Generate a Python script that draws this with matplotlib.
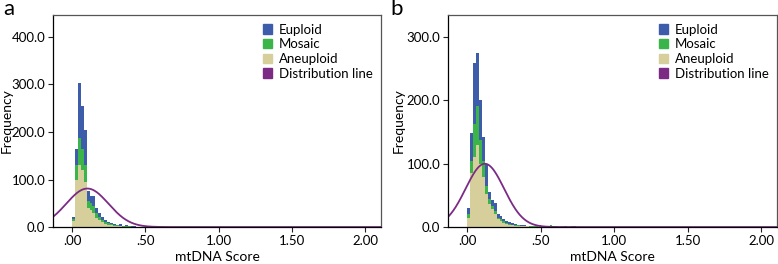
import numpy as np
import matplotlib
matplotlib.use('Agg')
import matplotlib.pyplot as plt
from matplotlib.patches import Patch

plt.rcParams['font.family'] = ['Lato', 'DejaVu Sans']

bin_width = 0.02

# panel a, counts per 0.02 bin starting at 0.00
a_aneuploid = [12, 100, 130, 120, 95, 40, 35, 30, 20, 15, 10, 7, 5, 4, 3, 2, 2, 1, 1, 1,
               0, 1, 0, 0, 1, 0, 0, 0, 1, 0, 0, 0, 0]
a_mosaic = [5, 30, 57, 45, 35, 15, 15, 15, 10, 7, 5, 3, 3, 2, 2, 2, 1, 1, 2, 1,
            1, 0, 1, 0, 0, 1, 0, 0, 2, 0, 0, 0, 0]
a_euploid = [5, 35, 116, 90, 75, 20, 15, 20, 10, 8, 7, 4, 3, 3, 2, 1, 3, 1, 1, 1,
             1, 1, 0, 1, 0, 0, 1, 0, 0, 0, 1, 0, 1]

# panel b
b_aneuploid = [15, 85, 110, 130, 100, 79, 53, 37, 28, 20, 12, 9, 7, 5, 4, 3, 2, 2, 1, 1,
               1, 0, 0, 0, 1, 0, 0, 1, 1, 0, 0, 0, 1, 0, 0, 0, 0]
b_mosaic = [5, 20, 53, 62, 37, 26, 12, 8, 5, 5, 3, 3, 3, 2, 1, 1, 2, 1, 1, 1,
            0, 1, 1, 1, 0, 1, 0, 1, 2, 0, 1, 0, 0, 0, 0, 1, 0]
b_euploid = [10, 43, 97, 83, 63, 37, 35, 10, 9, 13, 5, 6, 3, 3, 3, 3, 1, 1, 1, 1,
             1, 1, 0, 1, 2, 0, 0, 0, 0, 1, 0, 0, 0, 1, 0, 0, 1]

# fitted normal curves: mean, sd, peak height
a_fit = (0.105, 0.144, 81)
b_fit = (0.12, 0.131, 100)

x_ticks = [0, 0.5, 1.0, 1.5, 2.0]
x_ticklabels = ['.00', '.50', '1.00', '1.50', '2.00']
a_yticks = [0, 100, 200, 300, 400]
b_yticks = [0, 100, 200, 300]

c_eu = '#3d5dab'
c_mo = '#3bb54a'
c_an = '#d6cf9b'
c_line = '#7c2b85'

fig = plt.figure(figsize=(7.78, 2.64), dpi=100)
ax_a = fig.add_axes([0.068, 0.140, 0.422, 0.803])
ax_b = fig.add_axes([0.576, 0.140, 0.423, 0.803])


def draw_panel(ax, an, mo, eu, fit, yticks, ymax, letter, ylab_x, letter_x):
    an = np.array(an)
    mo = np.array(mo)
    eu = np.array(eu)
    left = np.arange(len(an)) * bin_width
    ax.bar(left, an, width=bin_width, align='edge', color=c_an, linewidth=0)
    ax.bar(left, mo, bottom=an, width=bin_width, align='edge', color=c_mo, linewidth=0)
    ax.bar(left, eu, bottom=an + mo, width=bin_width, align='edge', color=c_eu, linewidth=0)

    mu, sd, peak = fit
    xs = np.linspace(-0.14, 2.12, 600)
    ax.plot(xs, peak * np.exp(-(xs - mu) ** 2 / (2 * sd ** 2)), color=c_line, lw=1.3)

    ax.set_xlim(-0.13, 2.11)
    ax.set_ylim(0, ymax)
    ax.set_xticks(x_ticks)
    ax.set_xticklabels(x_ticklabels)
    ax.set_yticks(yticks)
    ax.set_yticklabels([f'{v:.1f}' for v in yticks])
    ax.tick_params(labelsize=9.5, length=3.5, width=0.8, color='#222222', pad=2)
    for s in ax.spines.values():
        s.set_linewidth(0.9)
    ax.spines['top'].set_color('#555555')
    ax.spines['right'].set_color('#555555')
    ax.set_xlabel('mtDNA Score', fontsize=10)
    ax.xaxis.set_label_coords(0.5, -0.115)
    ax.set_ylabel('Frequency', fontsize=10, va='center')
    ax.yaxis.set_label_coords(ylab_x, 0.5)

    handles = [Patch(color=c_eu), Patch(color=c_mo), Patch(color=c_an), Patch(color=c_line)]
    ax.legend(handles, ['Euploid', 'Mosaic', 'Aneuploid', 'Distribution line'],
              loc='upper right', frameon=False, fontsize=9.5,
              handlelength=0.7, handleheight=0.7, handletextpad=0.5,
              labelspacing=0.2, borderaxespad=0.25)
    ax.text(letter_x, 1.03, letter, transform=ax.transAxes, fontsize=16,
            va='center', ha='left')


draw_panel(ax_a, a_aneuploid, a_mosaic, a_euploid, a_fit, a_yticks, 446, 'a', -0.141, -0.152)
draw_panel(ax_b, b_aneuploid, b_mosaic, b_euploid, b_fit, b_yticks, 335, 'b', -0.149, -0.175)

fig.savefig('out.png', dpi=100)
